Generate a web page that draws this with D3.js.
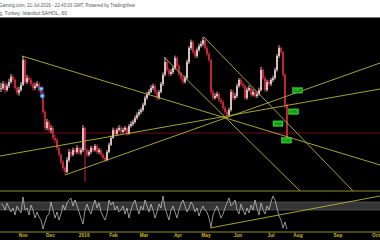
<!DOCTYPE html>
<html>
<head>
<meta charset="utf-8">
<script src="https://cdnjs.cloudflare.com/ajax/libs/d3/7.8.5/d3.min.js"></script>
<style>
  html, body { margin: 0; padding: 0; background: #fff; }
  svg { display: block; }
</style>
</head>
<body>
<svg id="chart" width="380" height="240"></svg>
<script>
// hourly SAHOL bars, one entry per candle (open = previous close)
var firstOpen = 10.55;
var closes = [
  10.55,10.65,10.50,10.60,10.70,10.83,10.75,10.55,10.43,10.50,
  10.63,11.25,10.70,10.80,10.75,10.65,10.55,10.60,10.65,10.50,
  10.43,9.95,9.55,9.70,9.50,9.55,9.30,9.25,9.05,8.88,
  8.70,8.55,8.45,8.75,8.95,8.88,9.00,8.95,9.05,8.93,
  9.00,9.55,9.00,8.88,8.95,9.05,9.00,9.10,8.95,9.00,
  8.88,8.80,8.75,8.95,9.13,9.30,9.50,9.40,9.50,9.55,
  9.45,9.50,9.55,9.40,9.60,9.65,9.70,9.80,9.88,9.95,
  10.00,10.13,10.30,10.40,10.45,10.55,10.60,10.45,10.30,10.45,
  10.65,10.88,11.20,11.00,10.90,10.95,11.05,11.30,11.10,10.90,
  10.80,10.70,10.80,11.20,11.55,11.70,11.45,11.35,11.50,11.60,
  11.65,11.75,11.55,11.40,11.25,10.45,10.30,10.35,10.40,10.25,
  10.20,10.05,9.95,9.88,10.00,10.45,10.30,10.35,10.60,10.75,
  10.65,10.60,10.30,10.50,10.55,10.38,10.45,10.35,10.40,10.50,
  11.00,10.80,10.50,10.70,10.65,10.75,10.80,11.00,11.35,11.55,
  11.45,10.88,10.13,9.30
];
var highs = [
  10.68,10.72,10.70,10.66,10.78,10.90,10.88,10.80,10.60,10.58,
  10.70,11.35,11.28,10.88,10.85,10.80,10.70,10.68,10.72,10.70,
  10.56,10.48,10.00,9.78,9.75,9.62,9.60,9.38,9.30,9.10,
  8.92,8.75,8.60,8.82,9.02,9.00,9.06,9.05,9.12,9.08,
  9.06,9.62,9.58,9.04,9.00,9.10,9.10,9.15,9.14,9.05,
  9.04,8.92,8.85,9.00,9.18,9.36,9.56,9.54,9.56,9.62,
  9.60,9.56,9.60,9.58,9.65,9.72,9.76,9.86,9.94,10.02,
  10.06,10.18,10.36,10.46,10.52,10.62,10.66,10.64,10.50,10.50,
  10.70,10.94,11.32,11.24,11.05,11.02,11.10,11.36,11.34,11.14,
  10.95,10.84,10.86,11.26,11.60,11.76,11.74,11.50,11.56,11.66,
  11.72,11.83,11.78,11.60,11.45,11.28,10.52,10.42,10.46,10.44,
  10.30,10.24,10.10,10.00,10.06,10.52,10.50,10.42,10.66,10.80,
  10.80,10.70,10.64,10.56,10.62,10.60,10.52,10.50,10.46,10.56,
  11.08,11.04,10.84,10.76,10.76,10.80,10.86,11.06,11.40,11.62,
  11.58,11.48,10.92,10.16
];
var lows = [
  10.45,10.50,10.42,10.46,10.55,10.66,10.70,10.50,10.38,10.36,
  10.46,10.60,10.64,10.65,10.68,10.60,10.48,10.50,10.56,10.45,
  10.38,9.90,9.48,9.50,9.44,9.42,9.25,9.18,9.00,8.82,
  8.64,8.48,8.38,8.42,8.70,8.82,8.84,8.90,8.90,8.88,
  8.88,8.95,8.20,8.82,8.84,8.90,8.95,8.96,8.90,8.90,
  8.84,8.76,8.70,8.72,8.92,9.10,9.28,9.35,9.36,9.46,
  9.40,9.42,9.46,9.35,9.38,9.56,9.60,9.66,9.76,9.84,
  9.90,9.96,10.10,10.26,10.36,10.42,10.50,10.40,10.24,10.26,
  10.42,10.60,10.84,10.95,10.85,10.86,10.90,11.00,11.05,10.85,
  10.74,10.64,10.66,10.76,11.15,11.50,11.40,11.30,11.30,11.46,
  11.56,11.60,11.50,11.35,11.20,10.38,10.24,10.26,10.30,10.20,
  10.14,10.00,9.90,9.80,9.84,9.96,10.25,10.26,10.30,10.56,
  10.60,10.55,10.25,10.26,10.46,10.33,10.34,10.30,10.30,10.36,
  10.46,10.75,10.45,10.46,10.60,10.60,10.70,10.76,10.96,11.30,
  11.40,10.82,10.05,9.20
];
// lower pane oscillator, same bars
var oscValues = [
  70,67.5,55,72.5,60,50,60,42.5,65,55,
  47.5,87.5,55,60,42.5,67.5,55,35,50,37.5,
  30,7.5,25,40,45,75,55,35,50,30,
  45,67.5,55,72.5,80,85,65,80,65,50,
  35,20,55,70,55,45,65,80,60,72.5,
  50,40,30,45,80,67.5,75,55,65,50,
  55,65,45,60,35,55,70,80,60,45,
  65,55,80,65,50,70,55,35,50,70,
  60,90,60,45,30,55,65,50,35,55,
  70,80,65,50,60,75,67.5,50,60,40,
  55,65,55,50,35,12.5,42.5,55,65,50,
  35,45,60,72.5,85,65,70,80,55,45,
  70,55,42.5,60,47.5,67.5,55,80,60,42.5,
  72.5,55,45,65,55,75,90,80,60,40,
  30,10,25,7.5
];
var oscBand = [55, 75];

// time axis (bar index positions of month starts, incl. future space)
var monthLabels = ["Nov", "Dec", "2016", "Feb", "Mar", "Apr", "May", "Jun", "Jul", "Aug", "Sep", "Oct"];
var monthIdx = [10.85, 24.5, 41.35, 56, 71.25, 88.25, 102.25, 118.25, 134.75, 148.25, 168.25, 187.3];

// drawn trend lines: [startIdx, startPrice, endIdx, endPrice]
var trendLines = [
  [10.5, 11.35, 189.5, 8.625],
  [81.5, 11.325, 149.5, 7.975],
  [101.5, 11.825, 176, 7.975],
  [32, 8.375, 189.5, 11.175],
  [-0.5, 8.85, 189.5, 10.525]
];
var oscTrend = [104.5, 10, 189.5, 90];
var supportLevel = 9.425;

// price tags
var tagIdx = [148.25, 146.25, 138.5, 142.75];
var tagPrice = [10.49, 9.96, 9.66, 9.24];
var tagText = ["10.49", "9.96", "9.66", "9.24"];

// event markers
var eventIdx = [20.15, 20.65];
var eventPrice = [10.53, 10.35];

var headerLines = [
  "Gaming.com, 21-Jul-2016 - 22:43:03 GMT, Powered by TradingView",
  "g, Turkey, Istanbul:SAHOL, 60"
];

var width = 380, height = 240;
var svg = d3.select("#chart");

// header
svg.append("rect").attr("width", width).attr("height", 18).attr("fill", "#fff");
svg.append("text").attr("x", -1).attr("y", 7)
  .attr("textLength", 136).attr("lengthAdjust", "spacingAndGlyphs")
  .style("font-family", "Liberation Sans, Arial, sans-serif").style("font-size", "4.6px")
  .attr("fill", "#555").text(headerLines[0]);
svg.append("text").attr("x", -1).attr("y", 14.5)
  .attr("textLength", 68).attr("lengthAdjust", "spacingAndGlyphs")
  .style("font-family", "Liberation Sans, Arial, sans-serif").style("font-size", "4.6px")
  .attr("fill", "#555").text(headerLines[1]);
svg.append("line").attr("x1", 0).attr("x2", width).attr("y1", 17.5).attr("y2", 17.5)
  .attr("stroke", "#777").attr("stroke-width", 1);

// black chart body
svg.append("rect").attr("x", 0).attr("y", 18).attr("width", width).attr("height", height - 18).attr("fill", "#000");

var x = d3.scaleLinear().domain([-0.5, 189.5]).range([0, width]);
var y = d3.scaleLinear().domain([8, 12.3]).range([190, 18]);
var yOsc = d3.scaleLinear().domain([0, 100]).range([232, 192]);

var defs = svg.append("defs");
defs.append("clipPath").attr("id", "pricePane")
  .append("rect").attr("x", 0).attr("y", 18).attr("width", width).attr("height", 173);
defs.append("clipPath").attr("id", "oscPane")
  .append("rect").attr("x", 0).attr("y", 191.5).attr("width", width).attr("height", 40.5);

var price = svg.append("g").attr("clip-path", "url(#pricePane)");

// support line
price.append("line")
  .attr("x1", 0).attr("x2", width)
  .attr("y1", y(supportLevel)).attr("y2", y(supportLevel))
  .attr("stroke", "#4a080c").attr("stroke-width", 1.6);

// candles
var bars = closes.map(function(c, i) {
  return { i: i, open: i ? closes[i - 1] : firstOpen, close: c, high: highs[i], low: lows[i] };
});
var candle = price.selectAll("g.candle").data(bars).enter().append("g").attr("class", "candle");
candle.append("line")
  .attr("x1", function(d) { return x(d.i); })
  .attr("x2", function(d) { return x(d.i); })
  .attr("y1", function(d) { return y(d.high); })
  .attr("y2", function(d) { return y(d.low); })
  .attr("stroke", function(d) { return d.close >= d.open ? "#e4c2c6" : "#c82636"; })
  .attr("stroke-width", 1);
candle.append("rect")
  .attr("x", function(d) { return x(d.i) - 0.8; })
  .attr("width", 1.6)
  .attr("y", function(d) { return y(Math.max(d.open, d.close)); })
  .attr("height", function(d) { return Math.max(0.8, Math.abs(y(d.open) - y(d.close))); })
  .attr("fill", function(d) { return d.close >= d.open ? "#eed6d9" : "#d42c3c"; });

// event markers
eventIdx.forEach(function(e, k) {
  price.append("circle").attr("cx", x(e)).attr("cy", y(eventPrice[k])).attr("r", 2.4)
    .attr("fill", "#2f8fe6");
  price.append("circle").attr("cx", x(e)).attr("cy", y(eventPrice[k])).attr("r", 1)
    .attr("fill", "#bfe3ff");
});

// trend lines
price.selectAll("line.trend").data(trendLines).enter().append("line")
  .attr("class", "trend")
  .attr("x1", function(d) { return x(d[0]); })
  .attr("y1", function(d) { return y(d[1]); })
  .attr("x2", function(d) { return x(d[2]); })
  .attr("y2", function(d) { return y(d[3]); })
  .attr("stroke", "#b4b43c").attr("stroke-width", 0.9);

// price tags
tagIdx.forEach(function(t, k) {
  var g = price.append("g").attr("transform", "translate(" + x(t) + "," + y(tagPrice[k]) + ")");
  g.append("rect").attr("x", -5).attr("y", -2.7).attr("width", 10).attr("height", 5.4)
    .attr("fill", "#1fc41f").attr("stroke", "#6be06b").attr("stroke-width", 0.4);
  g.append("text").attr("text-anchor", "middle").attr("y", 1.3)
    .style("font-family", "Liberation Sans, Arial, sans-serif").style("font-size", "3.6px")
    .attr("fill", "#063806").text(tagText[k]);
});

// oscillator pane
var osc = svg.append("g").attr("clip-path", "url(#oscPane)");
osc.append("rect")
  .attr("x", 0).attr("width", width)
  .attr("y", yOsc(oscBand[1])).attr("height", yOsc(oscBand[0]) - yOsc(oscBand[1]))
  .attr("fill", "#353535");
oscBand.forEach(function(b) {
  osc.append("line").attr("x1", 0).attr("x2", width).attr("y1", yOsc(b)).attr("y2", yOsc(b))
    .attr("stroke", "#5e5e5e").attr("stroke-width", 0.7);
});
osc.append("path")
  .datum(oscValues)
  .attr("fill", "none")
  .attr("stroke", "#cfcfcf")
  .attr("stroke-width", 0.7)
  .attr("d", d3.line().x(function(d, i) { return x(i); }).y(function(d) { return yOsc(d); }));
osc.append("line")
  .attr("x1", x(oscTrend[0])).attr("y1", yOsc(oscTrend[1]))
  .attr("x2", x(oscTrend[2])).attr("y2", yOsc(oscTrend[3]))
  .attr("stroke", "#b4b43c").attr("stroke-width", 0.9);

// pane borders
[191, 232].forEach(function(v) {
  svg.append("line").attr("x1", 0).attr("x2", width).attr("y1", v).attr("y2", v)
    .attr("stroke", "#8e8e2e").attr("stroke-width", 1);
});

// time axis
var xAxis = d3.axisBottom(x)
  .tickValues(monthIdx)
  .tickFormat(function(d, i) { return monthLabels[i]; })
  .tickSize(0)
  .tickPadding(1.2);
var axisG = svg.append("g").attr("transform", "translate(0,232.5)").call(xAxis);
axisG.select(".domain").remove();
axisG.selectAll("text")
  .attr("fill", "#cdb52a")
  .style("font-family", "Liberation Sans, Arial, sans-serif")
  .style("font-size", "4.8px")
  .style("font-weight", "bold");
</script>
</body>
</html>
